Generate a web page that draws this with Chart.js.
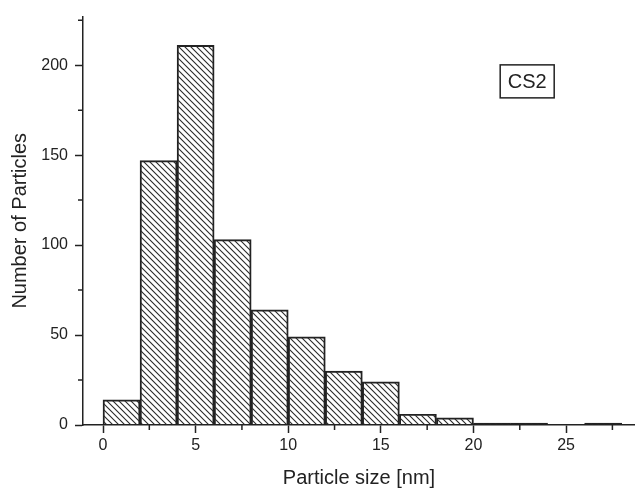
<!DOCTYPE html>
<html>
<head>
<meta charset="utf-8">
<script src="https://cdn.jsdelivr.net/npm/chart.js@4/dist/chart.umd.min.js"></script>
<style>
  html, body { margin: 0; padding: 0; background: #fff; }
</style>
</head>
<body>
<canvas id="myChart" width="635" height="488"></canvas>
<script>
// histogram bins (2 nm wide), value = bin centre
var binCenters = [1, 3, 5, 7, 9, 11, 13, 15, 17, 19, 21, 23, 25, 27];
var counts = [14, 147, 211, 103, 64, 49, 30, 24, 6, 4, 1, 1, 0, 1];

var xTicks = [0, 5, 10, 15, 20, 25];
var xMinor = [2.5, 7.5, 12.5, 17.5, 22.5, 27.5];
var yTicks = [0, 50, 100, 150, 200];
var yMinor = [25, 75, 125, 175, 225];

var sampleLabel = "CS2";

function makeHatch() {
  var c = document.createElement("canvas");
  c.width = 6;
  c.height = 6;
  var g = c.getContext("2d");
  g.strokeStyle = "#2a2a2a";
  g.lineWidth = 1.1;
  g.beginPath();
  g.moveTo(0, 0); g.lineTo(6, 6);
  g.moveTo(-3, 3); g.lineTo(3, 9);
  g.moveTo(3, -3); g.lineTo(9, 3);
  g.stroke();
  return g.createPattern(c, "repeat");
}

var extras = {
  id: "extras",
  afterDraw: function (chart) {
    var ctx = chart.ctx;
    var xs = chart.scales.x;
    var ys = chart.scales.y;
    ctx.save();
    ctx.strokeStyle = "#222";
    ctx.lineWidth = 1.5;
    ctx.beginPath();
    xMinor.forEach(function (v) {
      var px = xs.getPixelForValue(v);
      ctx.moveTo(px, ys.bottom);
      ctx.lineTo(px, ys.bottom + 5);
    });
    yMinor.forEach(function (v) {
      var py = ys.getPixelForValue(v);
      ctx.moveTo(xs.left, py);
      ctx.lineTo(xs.left - 5, py);
    });
    ctx.stroke();

    // sample label box
    var cx = xs.getPixelForValue(22.9);
    var cy = ys.getPixelForValue(191);
    ctx.strokeRect(cx - 27, cy - 16.5, 54, 33);
    ctx.fillStyle = "#222";
    ctx.font = "20px 'Liberation Sans', Arial, sans-serif";
    ctx.textAlign = "center";
    ctx.textBaseline = "middle";
    ctx.fillText(sampleLabel, cx, cy + 1);
    ctx.restore();
  },
};

var font = "'Liberation Sans', Arial, sans-serif";
var ctx = document.getElementById("myChart");

new Chart(ctx, {
  type: "bar",
  data: {
    datasets: [
      {
        data: binCenters.map(function (x, i) { return { x: x, y: counts[i] }; }),
        backgroundColor: makeHatch(),
        borderColor: "#222",
        borderWidth: 1.3,
        barPercentage: 1,
        categoryPercentage: 1,
      },
    ],
  },
  options: {
    responsive: false,
    animation: false,
    layout: { padding: { top: 15, right: 0, left: 0, bottom: 0 } },
    plugins: { legend: { display: false }, tooltip: { enabled: false } },
    scales: {
      x: {
        type: "linear",
        offset: false,
        min: -1.08,
        max: 28.72,
        afterFit: function (s) { s.height = 63; },
        afterBuildTicks: function (s) { s.ticks = xTicks.map(function (v) { return { value: v }; }); },
        grid: { offset: false, drawOnChartArea: false, tickLength: 8, tickColor: "#222", tickWidth: 1.5 },
        border: { color: "#222", width: 1.5 },
        ticks: { color: "#222", font: { family: font, size: 16 }, padding: 3, maxRotation: 0 },
        title: {
          display: true,
          text: "Particle size [nm]",
          color: "#222",
          font: { family: font, size: 20, lineHeight: 1 },
          padding: { top: 0, bottom: 0 },
        },
      },
      y: {
        min: 0,
        max: 227,
        afterFit: function (s) { s.width = 83; },
        afterBuildTicks: function (s) { s.ticks = yTicks.map(function (v) { return { value: v }; }); },
        grid: { drawOnChartArea: false, tickLength: 8, tickColor: "#222", tickWidth: 1.5 },
        border: { color: "#222", width: 1.5 },
        ticks: { color: "#222", font: { family: font, size: 16 }, padding: 7 },
        title: {
          display: true,
          text: "Number of Particles",
          color: "#222",
          font: { family: font, size: 20, lineHeight: 1 },
          padding: { top: 10.5, bottom: 0 },
        },
      },
    },
  },
  plugins: [extras],
});
</script>
</body>
</html>
